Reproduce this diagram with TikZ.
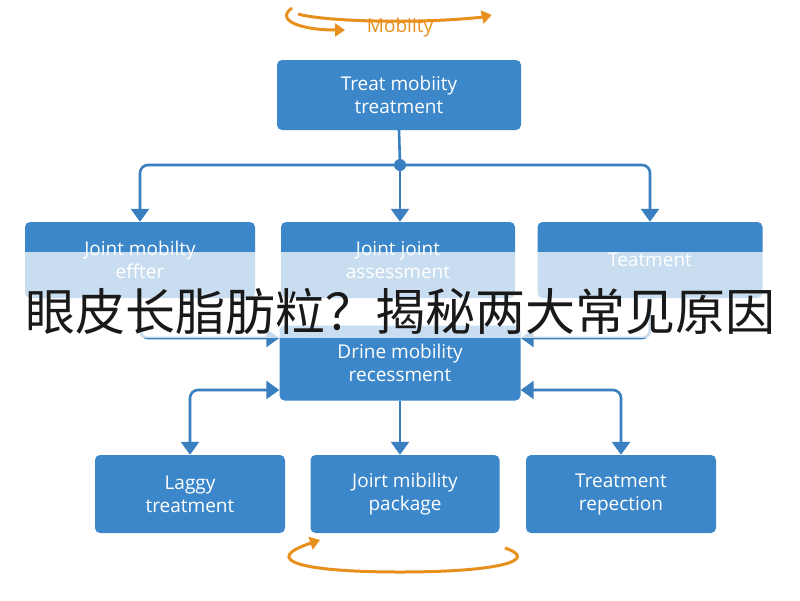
\documentclass[tikz,border=0pt]{standalone}
\usepackage{fontspec}
\setmainfont{Open Sans}
\newfontfamily\cjk{Noto Sans CJK SC}
\usetikzlibrary{arrows.meta}
\definecolor{bx}{HTML}{3C87C9}
\definecolor{ln}{HTML}{3A7FBF}
\definecolor{org}{HTML}{E8901E}
\begin{document}
\begin{tikzpicture}[x=1pt,y=-1pt,
  box/.style={fill=bx,rounded corners=5pt,text=white,align=center,font=\fontsize{19}{23}\selectfont,inner sep=0pt},
  con/.style={draw=ln,line width=2.6pt,rounded corners=8pt,-{Triangle[length=13pt,width=18pt]}},
  loop/.style={draw=org,line width=3pt,-{Triangle[length=10pt,width=13pt]}}]
\useasboundingbox (0,0) rectangle (800,600);
\fill[white] (0,0) rectangle (800,600);
\node[text=org,font=\fontsize{19}{23}\selectfont] (mob) at (400,28) {Mobiity};
\node[box,minimum width=244pt,minimum height=70pt] (top) at (399,95) {Treat mobiity\\treatment};
\node[box,minimum width=230pt,minimum height=76pt] (b1) at (140,260) {Joint mobilty\\effter};
\node[box,minimum width=234pt,minimum height=76pt] (b2) at (398,260) {Joint joint\\assessment};
\node[box,minimum width=225pt,minimum height=76pt] (b3) at (650,260) {Teatment};
\node[box,minimum width=241pt,minimum height=75pt] (c) at (400,363) {Drine mobility\\recessment};
\node[box,minimum width=190pt,minimum height=78pt] (l1) at (190,494) {Laggy\\treatment};
\node[box,minimum width=189pt,minimum height=78pt] (l2) at (405,494) {Joirt mibility\\package};
\node[box,minimum width=190pt,minimum height=78pt] (l3) at (621,494) {Treatment\\repection};
% top connectors
\coordinate (j) at (400,165);
\draw[ln,line width=2.6pt] (top.south) -- (j);
\fill[ln] (j) circle (6pt);
\draw[con] (j) -| (b1.north -| 140,0);
\draw[con] (j) -| (b3.north -| 650,0);
\draw[con] (j) -- (b2.north -| j);
% middle connectors
\draw[con] (b1.south) |- (c.west |- 0,338);
\draw[con] (b3.south) |- (c.east |- 0,338);
% bottom connectors
\draw[con,{Triangle[length=13pt,width=18pt]}-{Triangle[length=13pt,width=18pt]}] (c.west |- 0,390) -| (l1.north);
\draw[con] (c.south) -- (l2.north -| c.south);
\draw[con,{Triangle[length=13pt,width=18pt]}-{Triangle[length=13pt,width=18pt]}] (c.east |- 0,390) -| (l3.north);
% orange loops
\draw[loop] (298,14) arc[start angle=160,end angle=25,x radius=105,y radius=11] ;
\draw[loop] (292,8) .. controls (275,20) and (300,30) .. (345,30);
\draw[loop] (505,548) .. controls (540,560) and (500,572) .. (400,572) .. controls (300,572) and (260,560) .. (320,540);
% overlay band
\fill[white,opacity=0.72] (0,252) rectangle (800,338);
\node[font=\cjk\fontsize{50}{55}\selectfont,text=black!90] (title) at (400,311) {眼皮长脂肪粒？揭秘两大常见原因};
\end{tikzpicture}
\end{document}
